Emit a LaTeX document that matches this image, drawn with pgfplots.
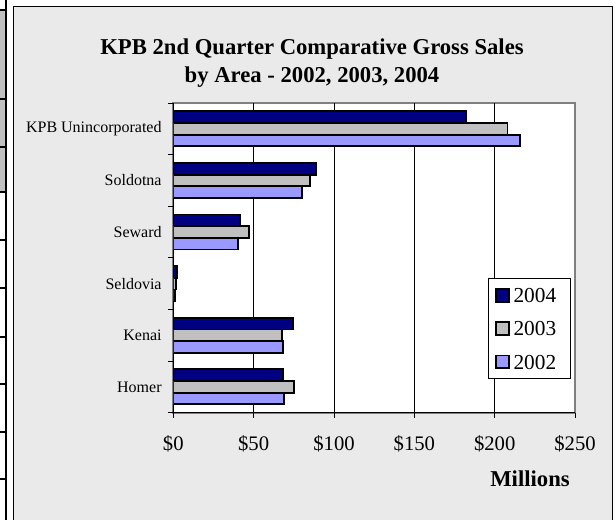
\documentclass[border=0pt]{standalone}
\usepackage{pgfplots}
\pgfplotsset{compat=1.18}
\usepackage{fontspec}
\setmainfont{Liberation Serif}
\definecolor{bg}{RGB}{234,234,234}
\definecolor{c2004}{RGB}{0,0,128}
\definecolor{c2003}{RGB}{192,192,192}
\definecolor{c2002}{RGB}{153,153,255}
\definecolor{framegray}{RGB}{128,128,128}

\begin{document}
\begin{tikzpicture}[x=0.75pt,y=0.75pt]
\useasboundingbox (0,0) rectangle (615,519);
\fill[white] (0,0) rectangle (615,519);
% bits of the neighbouring table on the left
\fill[c2003] (0,327) rectangle (5,509);
\draw[line width=1.9pt] (6.2,-2) -- (6.2,521);
\foreach \yy in {10,99,147,192,240,288,337,384,432,479}
  \draw[line width=1.5pt] (0,519-\yy) -- (6.2,519-\yy);
% chart area
\filldraw[fill=bg, draw=black, line width=0.75pt] (13,-3) rectangle (612,512.3);
\node[anchor=base, font=\fontsize{17}{20}\selectfont\bfseries] at (312,464.7)
  {KPB 2nd Quarter Comparative Gross Sales};
\node[anchor=base, font=\fontsize{17}{20}\selectfont\bfseries] at (312,436.3)
  {by Area - 2002, 2003, 2004};
\node[anchor=base, font=\fontsize{17}{20}\selectfont\bfseries] at (530,32.3) {Millions};

\begin{axis}[
  at={(129.98pt,79.7pt)}, anchor=south west,
  scale only axis, width=301.3pt, height=232.3pt,
  xbar, bar width=8.75pt,
  xmin=0, xmax=250, ymin=-0.5, ymax=5.5,
  axis x line=bottom, axis y line=left,
  axis line style={-, black, line width=0.75pt},
  axis background/.style={fill=white, draw=framegray, line width=1.5pt},
  xtick={50,100,150,200},
  xticklabels={\$50,\$100,\$150,\$200},
  extra x ticks={0,250}, extra x tick labels={\$0,\$250},
  extra x tick style={grid=none},
  xmajorgrids, grid style={black, line width=0.6pt},
  ytick={-0.5,0.5,...,5.5},
  y tick label as interval,
  yticklabels={Homer,Kenai,Seldovia,Seward,Soldotna,KPB Unincorporated},
  tick align=outside, major tick length=3.75pt,
  tick style={black, line width=0.75pt},
  xticklabel style={font=\fontsize{15.5}{18}\selectfont, yshift=-9.5pt},
  yticklabel style={font=\fontsize{12}{14}\selectfont, xshift=-1.5pt},
  legend style={at={(0.7827,0.435)}, anchor=north west, draw=black,
    line width=0.75pt, fill=white, font=\fontsize{16}{19}\selectfont,
    inner xsep=5pt, inner ysep=7pt, row sep=14pt,
    nodes={inner sep=0pt, text height=11pt, text depth=0pt},
    /tikz/every odd column/.append style={column sep=3pt}},
  legend cell align=left,
  legend image code/.code={\draw[#1, line width=1.4pt] (0pt,-4.8pt) rectangle (9.6pt,4.8pt);},
]
\addplot[fill=c2004, draw=black, line width=1.4pt, bar shift=8.75pt] coordinates {
  (68.5,0) (74.7,1) (2.1,2) (41.7,3) (88.6,4) (182,5)};
\addlegendentry{\hbox to 38pt{2004\hfil}}
\addplot[fill=c2003, draw=black, line width=1.4pt, bar shift=0pt] coordinates {
  (75.3,0) (67.6,1) (1.7,2) (47.1,3) (85.3,4) (208,5)};
\addlegendentry{\hbox to 38pt{2003\hfil}}
\addplot[fill=c2002, draw=black, line width=1.4pt, bar shift=-8.75pt] coordinates {
  (68.7,0) (68,1) (1.3,2) (40.3,3) (79.9,4) (215.7,5)};
\addlegendentry{\hbox to 38pt{2002\hfil}}
\end{axis}
\end{tikzpicture}
\end{document}
